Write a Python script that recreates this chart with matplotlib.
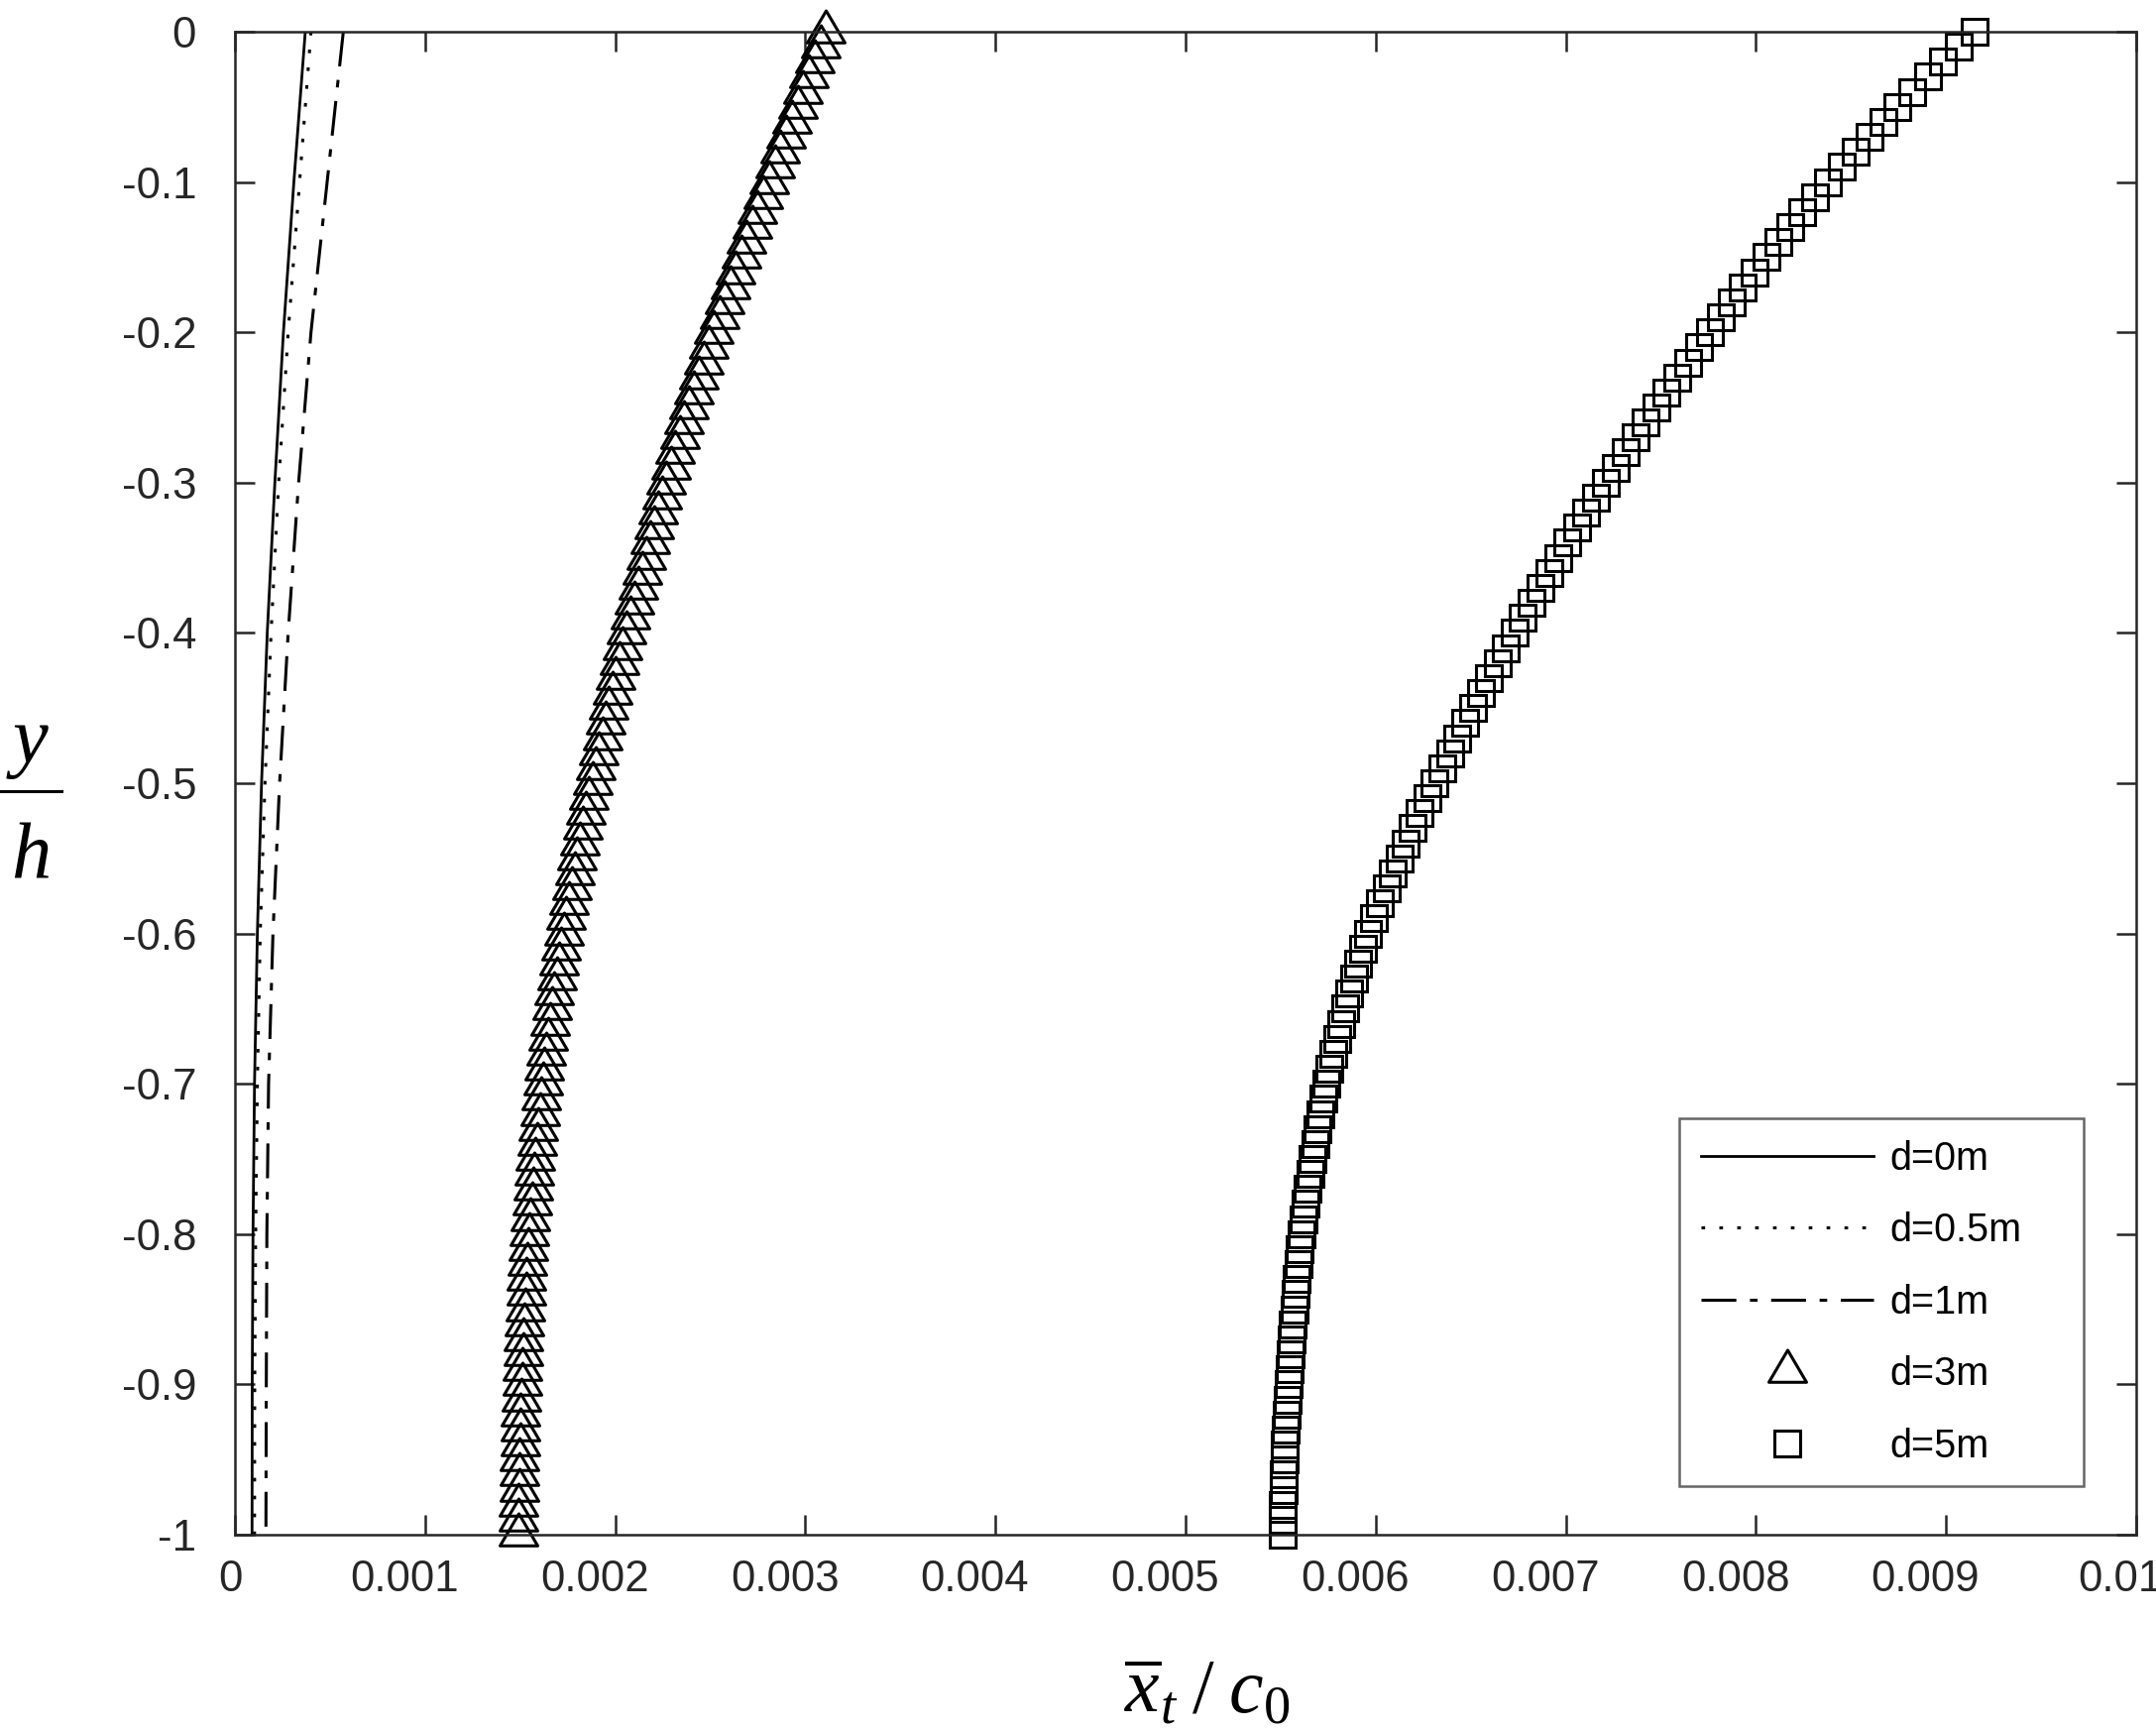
import numpy as np
import matplotlib.pyplot as plt
import matplotlib.transforms as mtransforms
from matplotlib.lines import Line2D
from matplotlib.path import Path

plt.rcParams['font.family'] = ['Liberation Sans', 'DejaVu Sans']
plt.rcParams['axes.unicode_minus'] = False
plt.rcParams['mathtext.fontset'] = 'custom'
plt.rcParams['mathtext.rm'] = 'Liberation Serif'
plt.rcParams['mathtext.it'] = 'Liberation Serif:italic'

# y/h sampling
depth_coarse = [0, -0.1, -0.2, -0.3, -0.4, -0.5, -0.6, -0.7, -0.8, -0.9, -1.0]
depth_fine = np.round(np.linspace(0, -1, 101), 2)

# x_t / c0, in units of 1e-5
d0_vals = [37, 31, 25.5, 21, 17, 14, 11.8, 10.3, 9.5, 9.1, 9.0]
d05_vals = [40, 34, 28, 23, 19, 15.8, 13.3, 11.8, 10.9, 10.4, 10.3]
d1_vals = [57, 48.5, 40, 33.5, 28, 23.5, 20, 17.7, 16.8, 16.5, 16.3]

d3_vals = [311, 308, 305, 302, 299, 296, 293, 290, 287, 284,
           281, 278.0, 275.0, 272.1, 269.2, 266.3, 263.4, 260.5, 257.6, 254.8,
           252, 249.3, 246.6, 244.0, 241.4, 238.9, 236.4, 234.0, 231.6, 229.3,
           227, 224.8, 222.6, 220.4, 218.3, 216.2, 214.1, 212.0, 210.0, 208.0,
           206, 204.1, 202.2, 200.4, 198.6, 196.8, 195.0, 193.2, 191.4, 189.7,
           188, 186.3, 184.7, 183.1, 181.6, 180.1, 178.6, 177.2, 175.8, 174.4,
           173, 171.7, 170.4, 169.2, 168.0, 166.9, 165.8, 164.8, 163.8, 162.9,
           162, 161.2, 160.4, 159.6, 158.9, 158.2, 157.5, 156.8, 156.2, 155.6,
           155, 154.5, 154.0, 153.5, 153.1, 152.7, 152.3, 151.9, 151.6, 151.3,
           151, 150.7, 150.4, 150.2, 150.0, 149.8, 149.6, 149.4, 149.2, 149.1,
           149.0]

d5_vals = [915, 906.6, 898.4, 890.3, 882.4, 874.6, 867.0, 859.5, 852.2, 845.0,
           838, 831.2, 824.5, 818.0, 811.6, 805.3, 799.2, 793.2, 787.3, 781.6,
           776, 770.1, 764.3, 758.6, 753.0, 747.5, 742.0, 736.6, 731.3, 726.1,
           721, 715.8, 710.7, 705.7, 700.8, 696.0, 691.2, 686.5, 681.9, 677.4,
           673, 668.5, 664.1, 659.8, 655.5, 651.3, 647.1, 643.0, 639.0, 635.0,
           631, 627.1, 623.3, 619.6, 616.0, 612.5, 609.0, 605.6, 602.3, 599.1,
           596, 593.4, 590.9, 588.5, 586.2, 584.0, 581.8, 579.7, 577.7, 575.8,
           574, 572.4, 570.9, 569.5, 568.1, 566.8, 565.5, 564.3, 563.1, 562.0,
           561, 560.1, 559.3, 558.5, 557.8, 557.1, 556.4, 555.8, 555.2, 554.6,
           554, 553.5, 553.0, 552.6, 552.2, 551.9, 551.6, 551.4, 551.2, 551.1,
           551.0]

labels = ['d=0m', 'd=0.5m', 'd=1m', 'd=3m', 'd=5m']

x_ticks = [0, 0.001, 0.002, 0.003, 0.004, 0.005, 0.006, 0.007, 0.008, 0.009, 0.01]
x_tick_labels = ['0', '0.001', '0.002', '0.003', '0.004', '0.005',
                 '0.006', '0.007', '0.008', '0.009', '0.01']
y_ticks = [0, -0.1, -0.2, -0.3, -0.4, -0.5, -0.6, -0.7, -0.8, -0.9, -1]
y_tick_labels = ['0', '-0.1', '-0.2', '-0.3', '-0.4', '-0.5',
                 '-0.6', '-0.7', '-0.8', '-0.9', '-1']

W, H = 2175, 1746
fig = plt.figure(figsize=(W / 100, H / 100), dpi=100)
ax = fig.add_axes([237 / W, 1 - 1548 / H, (2155 - 237) / W, (1548 - 32) / H])

ink = '#262626'
scale = 1e-5

ax.plot(np.array(d0_vals) * scale, depth_coarse, color='k', lw=2.0, label=labels[0])
ax.plot(np.array(d05_vals) * scale, depth_coarse, color='k', lw=2.2,
        ls=(0, (1.2, 4.7)), label=labels[1])
ax.plot(np.array(d1_vals) * scale, depth_coarse, color='k', lw=2.2,
        ls=(0, (11.5, 4.5, 2.5, 4.5)), label=labels[2])

# MATLAB style triangle, anchored near its centroid
tri = Path([(-1, -0.567), (1, -0.567), (0, 1.133), (-1, -0.567)], closed=True)
ax.plot(np.array(d3_vals) * scale, depth_fine, ls='none', marker=tri, ms=31,
        mfc='none', mec='k', mew=2.2, clip_on=False, label=labels[3])
ax.plot(np.array(d5_vals) * scale, depth_fine, ls='none', marker='s', ms=19,
        mfc='none', mec='k', mew=2.2, clip_on=False, label=labels[4])

ax.set_xlim(0, 0.01)
ax.set_ylim(-1, 0)
ax.set_xticks(x_ticks)
ax.set_xticklabels(x_tick_labels)
ax.set_yticks(y_ticks)
ax.set_yticklabels(y_tick_labels)
ax.tick_params(direction='in', length=14.4, width=1.8, top=True, right=True,
               colors=ink, labelsize=31.5)
ax.tick_params(axis='x', pad=18)
ax.tick_params(axis='y', pad=28)
for sp in ax.spines.values():
    sp.set_linewidth(1.8)
    sp.set_color(ink)

leg = ax.legend(loc='upper left',
                bbox_to_anchor=(1694 / W, 1 - 1508 / H, (2102 - 1694) / W, (1508 - 1128) / H),
                bbox_transform=fig.transFigure, mode='expand', borderaxespad=0,
                fancybox=False, edgecolor='#404040', fontsize=28.5, handlelength=4.4,
                handletextpad=0.42, labelspacing=0.87, borderpad=0.55, numpoints=1)
leg.get_frame().set_linewidth(1.8)

# y/h stacked label
serif = dict(family='Liberation Serif', style='italic', fontsize=58, color='k')
fig.text(31 / W, 1 - 769 / H, 'y', ha='center', va='baseline', **serif)
fig.text(31 / W, 1 - 885 / H, 'h', ha='center', va='baseline', **serif)
fig.add_artist(Line2D([0, 62 / W], [1 - 798 / H, 1 - 798 / H],
                      transform=fig.transFigure, color='k', lw=2.2))

fig.text(1218 / W, 1 - 1727 / H, r'$\overline{x}_t\;/\;c_0$', ha='center',
         va='baseline', fontsize=56, color='k')

# the x tick labels sit a little left of their ticks in the original
fig.canvas.draw()
renderer = fig.canvas.get_renderer()
for lbl in ax.get_xticklabels():
    w = lbl.get_window_extent(renderer).width
    shift = mtransforms.ScaledTranslation(-0.19 * w / 100, 0, fig.dpi_scale_trans)
    lbl.set_transform(lbl.get_transform() + shift)

fig.savefig('out.png', dpi=100)
